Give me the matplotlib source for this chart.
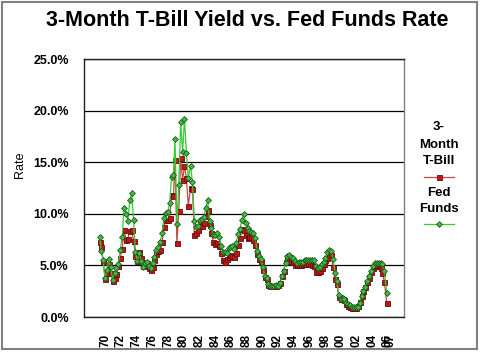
import matplotlib
matplotlib.use("Agg")
import matplotlib.pyplot as plt
from matplotlib.lines import Line2D
from matplotlib.patches import Rectangle
from matplotlib.ticker import FuncFormatter

plt.rcParams['font.family'] = ['Liberation Sans', 'DejaVu Sans']

dates = [
    1970.40, 1970.60, 1970.85, 1971.10, 1971.35, 1971.60, 1971.85,
    1972.10, 1972.35, 1972.60, 1972.85, 1973.10, 1973.35, 1973.60, 1973.85,
    1974.10, 1974.35, 1974.60, 1974.85, 1975.10, 1975.35, 1975.60, 1975.85,
    1976.10, 1976.35, 1976.60, 1976.85, 1977.10, 1977.35, 1977.60, 1977.85,
    1978.10, 1978.35, 1978.60, 1978.85, 1979.10, 1979.35, 1979.60, 1979.85,
    1980.10, 1980.30, 1980.55, 1980.80, 1981.05, 1981.30, 1981.55, 1981.80,
    1982.05, 1982.35, 1982.60, 1982.85, 1983.10, 1983.35, 1983.60, 1983.85,
    1984.10, 1984.35, 1984.60, 1984.85, 1985.10, 1985.35, 1985.60, 1985.85,
    1986.10, 1986.35, 1986.60, 1986.85, 1987.10, 1987.35, 1987.60, 1987.85,
    1988.10, 1988.35, 1988.60, 1988.85, 1989.10, 1989.35, 1989.60, 1989.85,
    1990.10, 1990.35, 1990.60, 1990.85, 1991.10, 1991.35, 1991.60, 1991.85,
    1992.10, 1992.35, 1992.60, 1992.85, 1993.10, 1993.35, 1993.60, 1993.85,
    1994.10, 1994.35, 1994.60, 1994.85, 1995.10, 1995.35, 1995.60, 1995.85,
    1996.10, 1996.35, 1996.60, 1996.85, 1997.10, 1997.35, 1997.60, 1997.85,
    1998.10, 1998.35, 1998.60, 1998.85, 1999.10, 1999.35, 1999.60, 1999.85,
    2000.10, 2000.35, 2000.60, 2000.85, 2001.10, 2001.35, 2001.60, 2001.85,
    2002.10, 2002.35, 2002.60, 2002.85, 2003.10, 2003.35, 2003.60, 2003.85,
    2004.10, 2004.35, 2004.60, 2004.85, 2005.10, 2005.35, 2005.60, 2005.85,
    2006.10, 2006.35, 2006.60, 2006.85, 2007.10, 2007.35, 2007.60, 2007.85,
    2008.15,
]

fed_funds = [
    7.8, 6.4, 5.5, 3.8, 4.6, 5.6, 4.8,
    3.6, 4.3, 4.7, 5.1, 6.5, 7.8, 10.6, 10.0,
    9.3, 11.3, 12.0, 9.4, 6.3, 5.4, 6.2, 5.4,
    4.8, 5.2, 5.3, 4.9, 4.7, 5.2, 5.8, 6.5,
    6.8, 7.3, 8.1, 9.6, 10.1, 10.2, 11.0, 13.6,
    13.8, 17.2, 9.0, 12.8, 18.9, 16.0, 19.2, 15.9,
    13.5, 14.6, 13.1, 9.3, 8.7, 8.8, 9.4, 9.5,
    9.7, 10.6, 11.3, 9.3, 8.6, 7.9, 7.9, 8.1,
    7.8, 6.9, 6.3, 6.3, 6.2, 6.7, 6.8, 6.9,
    6.6, 7.2, 8.0, 8.5, 9.4, 10.0, 9.1, 8.6,
    8.3, 8.2, 8.1, 7.7, 6.4, 5.9, 5.6, 4.8,
    4.0, 3.8, 3.2, 3.0, 3.0, 3.0, 3.1, 3.0,
    3.3, 4.0, 4.5, 5.2, 5.9, 6.0, 5.8, 5.7,
    5.4, 5.2, 5.3, 5.3, 5.3, 5.5, 5.5, 5.5,
    5.5, 5.5, 5.5, 4.9, 4.7, 4.8, 5.1, 5.3,
    5.7, 6.3, 6.5, 6.4, 5.6, 4.3, 3.5, 2.1,
    1.7, 1.8, 1.7, 1.4, 1.3, 1.2, 1.0, 1.0,
    1.0, 1.0, 1.4, 2.0, 2.5, 2.9, 3.5, 4.0,
    4.5, 4.9, 5.25, 5.25, 5.26, 5.25, 5.1, 4.5,
    2.3,
]

t_bill = [
    7.3, 6.8, 5.4, 3.7, 4.3, 5.1, 4.3,
    3.5, 3.8, 4.2, 4.9, 5.7, 6.6, 8.4, 7.5,
    7.6, 8.3, 8.4, 7.4, 5.9, 5.4, 6.3, 5.7,
    4.9, 5.2, 5.2, 4.7, 4.6, 4.8, 5.5, 6.1,
    6.4, 6.5, 7.3, 8.7, 9.4, 9.4, 9.6, 11.8,
    11.7, 15.2, 7.2, 10.3, 15.4, 13.3, 14.6, 13.5,
    10.8, 12.5, 12.4, 7.9, 8.1, 8.4, 9.2, 8.8,
    9.1, 9.8, 10.4, 8.9, 8.1, 7.3, 7.1, 7.2,
    6.9, 6.2, 5.5, 5.3, 5.6, 5.8, 6.0, 5.9,
    5.8, 6.2, 7.0, 7.7, 8.5, 8.4, 7.9, 7.7,
    7.8, 7.8, 7.5, 7.0, 6.1, 5.6, 5.4, 4.6,
    3.9, 3.7, 3.1, 3.0, 3.0, 3.0, 3.0, 3.1,
    3.3, 4.0, 4.5, 5.3, 5.8, 5.6, 5.4, 5.3,
    5.0, 5.0, 5.1, 5.0, 5.1, 5.1, 5.1, 5.1,
    5.1, 5.0, 4.9, 4.4, 4.4, 4.5, 4.7, 5.1,
    5.5, 5.7, 6.0, 6.0, 4.8, 3.7, 3.2, 1.9,
    1.7, 1.7, 1.6, 1.3, 1.1, 1.0, 0.9, 0.9,
    0.9, 1.1, 1.5, 2.0, 2.5, 2.9, 3.4, 3.8,
    4.4, 4.7, 4.9, 4.9, 5.0, 4.7, 4.3, 3.4,
    1.4,
]

tick_labels = ['70', '72', '74', '76', '78', '80', '82', '84', '86', '88',
               '90', '92', '94', '96', '98', '00', '02', '04', '06', '07']
y_ticks = [0, 5, 10, 15, 20, 25]

# ---- figure ----
W, H = 480, 357
fig = plt.figure(figsize=(W / 100, H / 100), dpi=100)
fig.patch.set_facecolor('white')

# outer frame
fig.add_artist(Rectangle((2 / W, 1 - 349 / H), 475 / W, 347 / H,
                         transform=fig.transFigure, fill=False,
                         edgecolor='#808080', linewidth=1.5))

ax = fig.add_axes([84 / W, 1 - 317 / H, 320 / W, 258 / H])

ax.plot(dates, t_bill, color='#cc4444', linewidth=0.9, marker='s',
        markersize=3.6, markerfacecolor='#cc1111', markeredgecolor='#5a1010',
        markeredgewidth=0.6, zorder=3)
ax.plot(dates, fed_funds, color='#33cc33', linewidth=0.9, marker='D',
        markersize=3.0, markerfacecolor='#44bb44', markeredgecolor='#1a5a1a',
        markeredgewidth=0.6, zorder=4)

ax.set_xlim(1968.33, 2010.43)
ax.set_ylim(0, 25)
ax.set_yticks(y_ticks)
ax.yaxis.set_major_formatter(FuncFormatter(lambda v, p: f'{v:.1f}%'))
ax.grid(axis='y', color='black', linewidth=0.9)
ax.set_axisbelow(True)

tick_pos = [1971.13 + 2.066 * k for k in range(19)] + [2008.7]
ax.set_xticks(tick_pos)
ax.set_xticklabels(tick_labels, rotation=90, fontweight='bold', fontsize=8.5)
for lbl in ax.get_yticklabels():
    lbl.set_fontweight('bold')
    lbl.set_fontsize(9)
ax.tick_params(axis='both', length=0)
ax.tick_params(axis='y', pad=11)
ax.tick_params(axis='x', pad=12)

for side in ['left', 'bottom', 'top']:
    ax.spines[side].set_color('#202020')
    ax.spines[side].set_linewidth(1.0)
ax.spines['right'].set_color('#808080')
ax.spines['right'].set_linewidth(1.0)

fig.text(20 / W, 1 - 165 / H, 'Rate', rotation=90, ha='center', va='center',
         fontsize=9)

fig.text(247 / W, 1 - 20 / H, '3-Month T-Bill Yield vs. Fed Funds Rate',
         ha='center', va='center', fontsize=15.5, fontweight='bold')

# legend
for txt, yy in [('3-', 127), ('Month', 145), ('T-Bill', 161),
                ('Fed', 193), ('Funds', 209)]:
    fig.text(439 / W, 1 - yy / H, txt, ha='center', va='center',
             fontsize=9.5, fontweight='bold')
fig.add_artist(Line2D([424 / W, 454 / W], [1 - 177 / H, 1 - 177 / H],
                      transform=fig.transFigure, color='#cc4444', linewidth=0.9))
fig.add_artist(Line2D([439 / W], [1 - 177 / H], transform=fig.transFigure,
                      marker='s', markersize=3.6, markerfacecolor='#cc1111',
                      markeredgecolor='#5a1010', markeredgewidth=0.6))
fig.add_artist(Line2D([424 / W, 454 / W], [1 - 224 / H, 1 - 224 / H],
                      transform=fig.transFigure, color='#33cc33', linewidth=0.9))
fig.add_artist(Line2D([439 / W], [1 - 224 / H], transform=fig.transFigure,
                      marker='D', markersize=3.0, markerfacecolor='#44bb44',
                      markeredgecolor='#1a5a1a', markeredgewidth=0.6))

fig.savefig('out.png', dpi=100)
